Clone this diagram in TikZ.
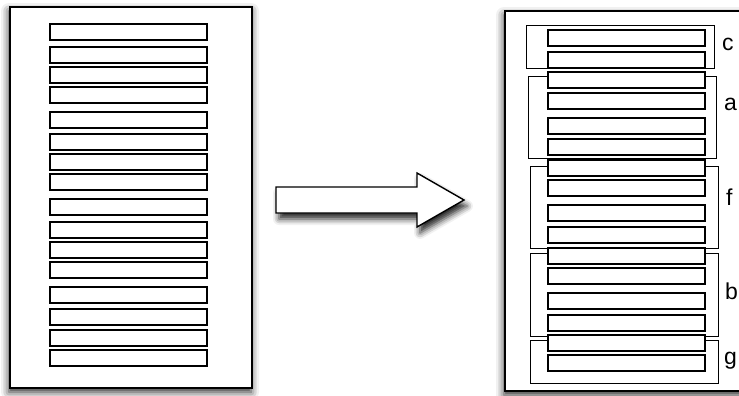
\documentclass[tikz,border=0pt]{standalone}
\usepackage{fontspec}
\setmainfont{Liberation Sans}
\usetikzlibrary{shadows.blur}

\begin{document}
\begin{tikzpicture}[x=1pt,y=-1pt,
  page/.style={draw=black,line width=1.6pt,fill=white,
               blur shadow={shadow xshift=-1pt,shadow yshift=-4pt,
                            shadow blur radius=8pt,shadow opacity=85}},
  bar/.style={draw=black,line width=1.3pt,fill=white,inner sep=0pt,
              minimum width=157pt,minimum height=16pt},
  group/.style={draw=black,line width=1pt,inner sep=0pt,minimum width=188pt},
  tag/.style={font=\fontsize{23}{26}\selectfont,anchor=mid west,inner sep=0pt}
]
\useasboundingbox (0,0) rectangle (739,396);
% pages
\node[page,minimum width=242pt,minimum height=381pt,inner sep=0pt] (before) at (131,197.5) {};
\node[page,minimum width=240pt,minimum height=380pt,inner sep=0pt] (after) at (625,201) {};
% big arrow
\draw[line width=1.4pt,fill=white,
      blur shadow={shadow xshift=3pt,shadow yshift=-6pt,shadow blur radius=6pt,shadow opacity=85}]
  (276,187) -- (417,187) -- (417,173) -- (464,200) -- (417,227) -- (417,213) -- (276,213) -- cycle;
% groups on the right page
\node[group,minimum height=43pt] (grpc) at (620,47.5) {};
\node[group,minimum height=81pt] (grpa) at (622,117.5) {};
\node[group,minimum height=82pt] (grpf) at (624,207) {};
\node[group,minimum height=83pt] (grpb) at (624,294.5) {};
\node[group,minimum height=43pt] (grpg) at (624,361.5) {};
% bars
\foreach \t [count=\i] in {24,47,67,87,112,134,154,174,199,222,242,262,287,309,330,350}
  \node[bar] (l\i) at (128.5,\t+8) {};
\foreach \t [count=\i] in {30,52,72,93,118,139,160,180,205,227,248,268,293,315,335,355}
  \node[bar] (r\i) at (626.5,\t+8) {};
% labels
\node[tag] (labc) at (722,48) {c};
\node[tag] (laba) at (724,108) {a};
\node[tag] (labf) at (726,203) {f};
\node[tag] (labb) at (725,297) {b};
\node[tag] (labg) at (724,362) {g};
\end{tikzpicture}
\end{document}
